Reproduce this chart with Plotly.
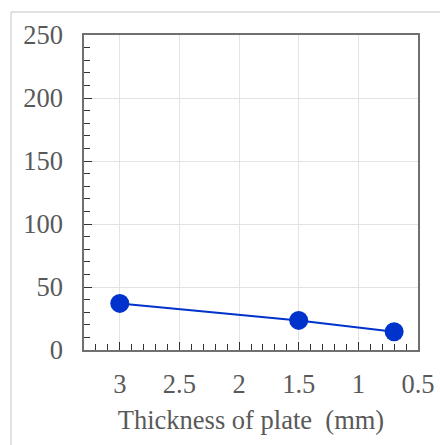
import plotly.graph_objects as go

thickness_mm = [3, 1.5, 0.7]
values = [37, 23.5, 14.5]

x_range = [3.3, 0.5]
y_range = [0, 250]

W, H = 440, 445
ml, mr, mt, mb = 84, 22, 35, 95
pw, ph = W - ml - mr, H - mt - mb

fig = go.Figure()
fig.add_trace(go.Scatter(
    x=thickness_mm, y=values, mode="lines+markers",
    line=dict(color="#0033cc", width=2),
    marker=dict(color="#0033cc", size=19),
    showlegend=False,
))

font_family = "Liberation Serif"
axis_color = "#707070"
grid_color = "#e3e3e3"
label_color = "#595959"
fs = 26.5

fig.update_xaxes(
    range=x_range, autorange=False,
    tickmode="linear", tick0=0.5, dtick=0.5,
    showgrid=True, gridcolor=grid_color, gridwidth=1,
    showline=True, linecolor=axis_color, linewidth=1.5, mirror=True,
    ticks="inside", ticklen=8, tickcolor="#333333", tickwidth=1,
    minor=dict(dtick=0.1, tick0=0.5, ticks="inside", ticklen=6, tickcolor="#333333", showgrid=False),
    tickfont=dict(family=font_family, size=fs, color=label_color),
    ticklabelstandoff=9,
    zeroline=False,
    title=dict(text="Thickness of plate\u00a0\u00a0(mm)",
               font=dict(family=font_family, size=fs, color=label_color), standoff=13),
)
fig.update_yaxes(
    range=y_range, autorange=False,
    tickmode="linear", tick0=0, dtick=50,
    showgrid=True, gridcolor=grid_color, gridwidth=1,
    showline=True, linecolor=axis_color, linewidth=1.5, mirror=True,
    ticks="inside", ticklen=8, tickcolor="#333333", tickwidth=1,
    minor=dict(dtick=10, tick0=0, ticks="inside", ticklen=6, tickcolor="#333333", showgrid=False),
    tickfont=dict(family=font_family, size=fs, color=label_color),
    ticklabelstandoff=14,
    zeroline=False,
)

fig.add_shape(
    type="rect", xref="paper", yref="paper",
    x0=(11 - ml) / pw, x1=(W + 5 - ml) / pw,
    y0=(H - mb - (H + 5)) / ph, y1=(H - mb - 12) / ph,
    line=dict(color="#c4c4c4", width=1), fillcolor="rgba(0,0,0,0)",
    layer="below",
)

fig.update_layout(
    width=W, height=H,
    margin=dict(l=ml, r=mr, t=mt, b=mb, autoexpand=False),
    paper_bgcolor="white", plot_bgcolor="white",
    font=dict(family=font_family),
)

fig.write_html("out.html")
